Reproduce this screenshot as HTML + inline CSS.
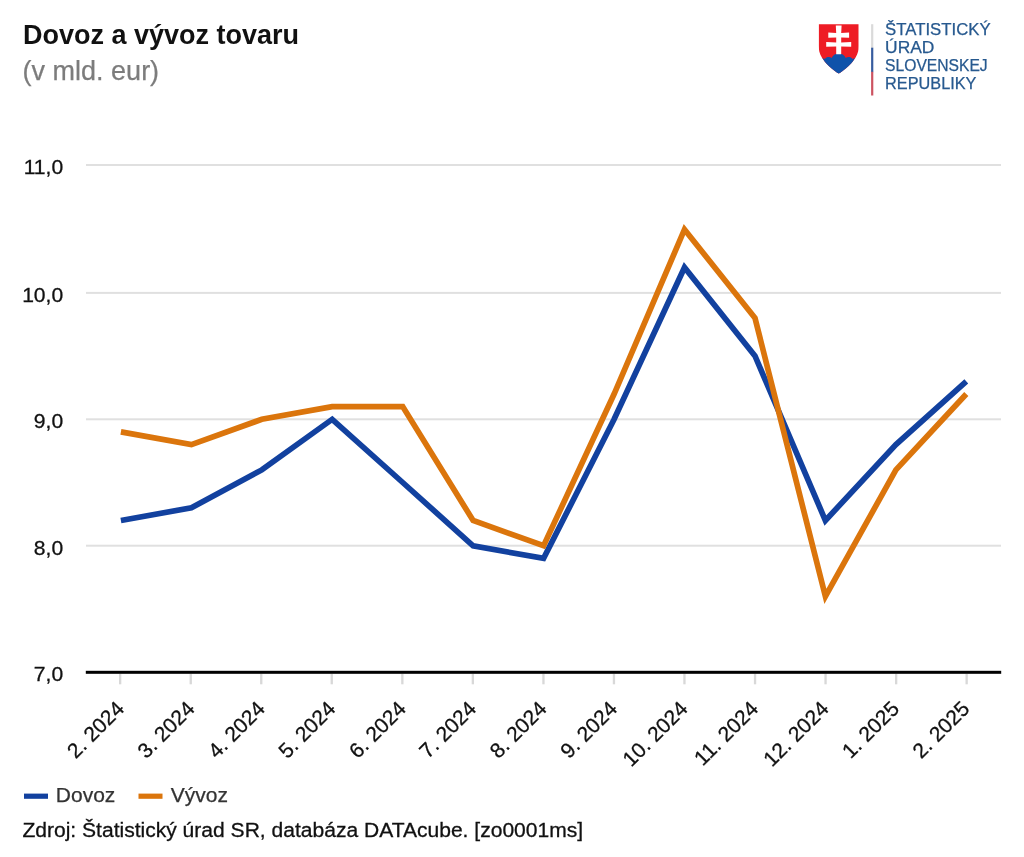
<!DOCTYPE html>
<html lang="sk"><head><meta charset="utf-8"><title>Dovoz a vývoz tovaru</title>
<style>
html,body{margin:0;padding:0;background:#fff;}
body{width:1024px;height:857px;position:relative;overflow:hidden;font-family:"Liberation Sans",Arial,sans-serif;}
svg text{font-family:"Liberation Sans",Arial,sans-serif;}
.title{position:absolute;left:23px;top:19.5px;font-size:27px;font-weight:bold;color:#111;line-height:31px;white-space:nowrap;}
.sub{position:absolute;left:22.6px;top:55.8px;font-size:27px;color:#7c7c7c;-webkit-text-stroke:0.25px #7c7c7c;line-height:31px;white-space:nowrap;}
.src{position:absolute;left:22.4px;top:817.6px;font-size:21.05px;color:#111;-webkit-text-stroke:0.3px #111;line-height:24px;white-space:nowrap;}
.lt{position:absolute;left:885px;color:#245a95;font-size:17px;line-height:18px;letter-spacing:0.5px;white-space:nowrap;}
</style></head><body>
<svg width="1024" height="857" viewBox="0 0 1024 857" style="position:absolute;left:0;top:0">
<rect x="86" y="164.0" width="915" height="2" fill="#e0e0e0"/>
<rect x="86" y="291.9" width="915" height="2" fill="#e0e0e0"/>
<rect x="86" y="418.3" width="915" height="2" fill="#e0e0e0"/>
<rect x="86" y="544.7" width="915" height="2" fill="#e0e0e0"/>
<rect x="119.0" y="673.8" width="2.3" height="10.5" fill="#d8d8d8"/>
<rect x="189.6" y="673.8" width="2.3" height="10.5" fill="#d8d8d8"/>
<rect x="260.1" y="673.8" width="2.3" height="10.5" fill="#d8d8d8"/>
<rect x="330.6" y="673.8" width="2.3" height="10.5" fill="#d8d8d8"/>
<rect x="401.2" y="673.8" width="2.3" height="10.5" fill="#d8d8d8"/>
<rect x="471.7" y="673.8" width="2.3" height="10.5" fill="#d8d8d8"/>
<rect x="542.3" y="673.8" width="2.3" height="10.5" fill="#d8d8d8"/>
<rect x="612.8" y="673.8" width="2.3" height="10.5" fill="#d8d8d8"/>
<rect x="683.3" y="673.8" width="2.3" height="10.5" fill="#d8d8d8"/>
<rect x="753.9" y="673.8" width="2.3" height="10.5" fill="#d8d8d8"/>
<rect x="824.4" y="673.8" width="2.3" height="10.5" fill="#d8d8d8"/>
<rect x="895.0" y="673.8" width="2.3" height="10.5" fill="#d8d8d8"/>
<rect x="965.5" y="673.8" width="2.3" height="10.5" fill="#d8d8d8"/>
<rect x="85.8" y="670.8" width="915.4" height="3" fill="#000"/>
<polyline points="120.9,520.5 191.4,507.8 261.8,469.9 332.2,419.3 402.7,482.5 473.1,545.8 543.6,558.4 614.1,419.3 684.5,267.5 755.0,356.0 825.4,520.5 895.9,444.6 966.3,381.3" fill="none" stroke="#12419f" stroke-width="5.7" stroke-linejoin="miter" stroke-miterlimit="10"/>
<polyline points="120.9,431.9 191.4,444.6 261.8,419.3 332.2,406.6 402.7,406.6 473.1,520.5 543.6,545.8 614.1,394.0 684.5,229.5 755.0,318.1 825.4,596.4 895.9,469.9 966.3,394.0" fill="none" stroke="#db750c" stroke-width="5.7" stroke-linejoin="miter" stroke-miterlimit="10"/>
<text x="63.2" y="174.1" text-anchor="end" font-size="21.1" fill="#111" stroke="#111" stroke-width="0.3">11,0</text>
<text x="63.2" y="302.0" text-anchor="end" font-size="21.1" fill="#111" stroke="#111" stroke-width="0.3">10,0</text>
<text x="63.2" y="428.4" text-anchor="end" font-size="21.1" fill="#111" stroke="#111" stroke-width="0.3">9,0</text>
<text x="63.2" y="554.8" text-anchor="end" font-size="21.1" fill="#111" stroke="#111" stroke-width="0.3">8,0</text>
<text x="63.2" y="681.4" text-anchor="end" font-size="21.1" fill="#111" stroke="#111" stroke-width="0.3">7,0</text>
<text transform="translate(125.4,710.0) rotate(-45)" text-anchor="end" font-size="21" fill="#111" stroke="#111" stroke-width="0.3">2. 2024</text>
<text transform="translate(195.9,710.0) rotate(-45)" text-anchor="end" font-size="21" fill="#111" stroke="#111" stroke-width="0.3">3. 2024</text>
<text transform="translate(266.3,710.0) rotate(-45)" text-anchor="end" font-size="21" fill="#111" stroke="#111" stroke-width="0.3">4. 2024</text>
<text transform="translate(336.8,710.0) rotate(-45)" text-anchor="end" font-size="21" fill="#111" stroke="#111" stroke-width="0.3">5. 2024</text>
<text transform="translate(407.2,710.0) rotate(-45)" text-anchor="end" font-size="21" fill="#111" stroke="#111" stroke-width="0.3">6. 2024</text>
<text transform="translate(477.6,710.0) rotate(-45)" text-anchor="end" font-size="21" fill="#111" stroke="#111" stroke-width="0.3">7. 2024</text>
<text transform="translate(548.1,710.0) rotate(-45)" text-anchor="end" font-size="21" fill="#111" stroke="#111" stroke-width="0.3">8. 2024</text>
<text transform="translate(618.6,710.0) rotate(-45)" text-anchor="end" font-size="21" fill="#111" stroke="#111" stroke-width="0.3">9. 2024</text>
<text transform="translate(689.0,710.0) rotate(-45)" text-anchor="end" font-size="21" fill="#111" stroke="#111" stroke-width="0.3">10. 2024</text>
<text transform="translate(759.5,710.0) rotate(-45)" text-anchor="end" font-size="21" fill="#111" stroke="#111" stroke-width="0.3">11. 2024</text>
<text transform="translate(829.9,710.0) rotate(-45)" text-anchor="end" font-size="21" fill="#111" stroke="#111" stroke-width="0.3">12. 2024</text>
<text transform="translate(900.4,710.0) rotate(-45)" text-anchor="end" font-size="21" fill="#111" stroke="#111" stroke-width="0.3">1. 2025</text>
<text transform="translate(970.8,710.0) rotate(-45)" text-anchor="end" font-size="21" fill="#111" stroke="#111" stroke-width="0.3">2. 2025</text>
<rect x="24" y="793.6" width="24" height="5.2" fill="#12419f"/>
<text x="55.8" y="801.8" font-size="21" fill="#333" stroke="#333" stroke-width="0.25">Dovoz</text>
<rect x="138.5" y="793.6" width="24" height="5.2" fill="#db750c"/>
<text x="170.8" y="801.8" font-size="21" fill="#333" stroke="#333" stroke-width="0.25">Vývoz</text>
</svg>

<svg style="position:absolute;left:0;top:0" width="1024" height="120" viewBox="0 0 1024 120">
<defs><clipPath id="shc"><path d="M858.5 24.2 L858.5 46.0 L858.4 49.5 L858.1 51.5 L857.6 53.0 L857.0 54.8 L856.2 56.3 L855.3 57.9 L854.3 59.3 L852.8 61.4 L851.1 63.5 L848.6 66.0 L845.8 68.4 L842.6 71.0 L840.3 72.8 L838.7 73.6 L837.1 72.8 L834.8 71.0 L831.6 68.4 L828.8 66.0 L826.3 63.5 L824.6 61.4 L823.1 59.3 L822.1 57.9 L821.2 56.3 L820.4 54.8 L819.8 53.0 L819.3 51.5 L819.0 49.5 L818.9 46.0 L818.9 24.2 Z"/></clipPath></defs>
<path d="M858.5 24.2 L858.5 46.0 L858.4 49.5 L858.1 51.5 L857.6 53.0 L857.0 54.8 L856.2 56.3 L855.3 57.9 L854.3 59.3 L852.8 61.4 L851.1 63.5 L848.6 66.0 L845.8 68.4 L842.6 71.0 L840.3 72.8 L838.7 73.6 L837.1 72.8 L834.8 71.0 L831.6 68.4 L828.8 66.0 L826.3 63.5 L824.6 61.4 L823.1 59.3 L822.1 57.9 L821.2 56.3 L820.4 54.8 L819.8 53.0 L819.3 51.5 L819.0 49.5 L818.9 46.0 L818.9 24.2 Z" fill="#ee1c25"/>
<g clip-path="url(#shc)">
<path d="M817 60 C821 58.3 823.5 58.3 825 58.9 C826.2 56.8 830 56.4 831.6 58 C833 55 836 53.6 838.7 53.6 C841.4 53.6 844.4 55 845.8 58 C847.4 56.4 851.2 56.8 852.4 58.9 C853.9 58.3 856.4 58.3 860.4 60 V76 H817 Z" fill="#0f52aa"/>
</g>
<path d="M835.8 25.5 H841.6 L841.2 32.9 L849.1 32.6 V37.7 L841.2 37.4 V42.4 L851.2 42.1 V46.8 L841.2 46.5 V54.3 H836.2 V46.5 L826.2 46.8 V42.1 L836.2 42.4 V37.4 L828.3 37.7 V32.6 L836.2 32.9 Z" fill="#fff"/>
<rect x="871.1" y="24.2" width="2.2" height="24" fill="#dadada"/>
<rect x="871.1" y="47.7" width="2.2" height="24.5" fill="#375c9f"/>
<rect x="871.1" y="71.8" width="2.2" height="23.7" fill="#cc5361"/>
<g font-family="'Liberation Sans',Arial,sans-serif" font-size="15.8" fill="#27598f" stroke="#27598f" stroke-width="0.25">
<text x="885.1" y="35.4" textLength="105.6" lengthAdjust="spacingAndGlyphs">ŠTATISTICKÝ</text>
<text x="885.1" y="53.3" textLength="49.3" lengthAdjust="spacingAndGlyphs">ÚRAD</text>
<text x="885.1" y="71.3" textLength="102.6" lengthAdjust="spacingAndGlyphs">SLOVENSKEJ</text>
<text x="885.1" y="89.2" textLength="91.4" lengthAdjust="spacingAndGlyphs">REPUBLIKY</text>
</g>
</svg>
<div class="title">Dovoz a vývoz tovaru</div>
<div class="sub">(v mld. eur)</div>
<div class="src">Zdroj: Štatistický úrad SR, databáza DATAcube. [zo0001ms]</div>
</body></html>
